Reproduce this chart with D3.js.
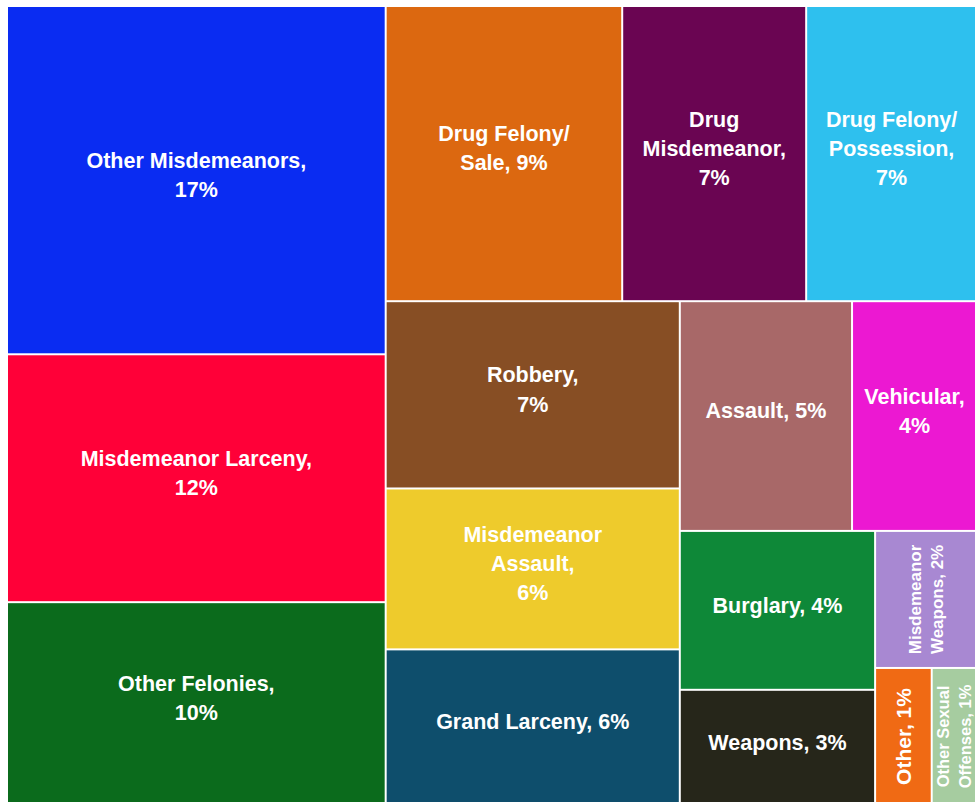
<!DOCTYPE html>
<html><head><meta charset="utf-8">
<script src="https://cdn.jsdelivr.net/npm/d3@7"></script>
<style>
html,body{margin:0;padding:0;background:#fff;}
svg{display:block;}
text{font-family:"Liberation Sans",Arial,sans-serif;font-weight:bold;fill:#fff;}
</style></head>
<body>
<svg id="chart" width="975" height="802"></svg>
<script>
const categories = ["Other Misdemeanors","Misdemeanor Larceny","Other Felonies","Drug Felony/Sale","Drug Misdemeanor","Drug Felony/Possession","Robbery","Misdemeanor Assault","Grand Larceny","Assault","Vehicular","Burglary","Weapons","Misdemeanor Weapons","Other","Other Sexual Offenses"];
const shares = [17.0,12.1,9.9,9.0,7.0,6.5,7.1,6.1,5.9,5.1,3.7,4.0,2.9,1.8,1.0,0.8];
const labelLines = [
  ["Other Misdemeanors,","17%"],
  ["Misdemeanor Larceny,","12%"],
  ["Other Felonies,","10%"],
  ["Drug Felony/","Sale, 9%"],
  ["Drug","Misdemeanor,","7%"],
  ["Drug Felony/","Possession,","7%"],
  ["Robbery,","7%"],
  ["Misdemeanor","Assault,","6%"],
  ["Grand Larceny, 6%"],
  ["Assault, 5%"],
  ["Vehicular,","4%"],
  ["Burglary, 4%"],
  ["Weapons, 3%"],
  ["Misdemeanor","Weapons, 2%"],
  ["Other, 1%"],
  ["Other Sexual","Offenses, 1%"]
];
// how many consecutive categories share each strip of the squarified layout
const rowSizes = [3,3,3,2,2,1,2];
const colors = ["#0a2cf2","#ff0038","#0b6b1c","#dc6810","#6a0552","#2ec0ee","#874e24","#eecb2c","#0e4e6c","#a86868","#ec18d2","#0e8838","#26261a","#a888d2","#f06a14","#a6cca0"];
const rotated = [false,false,false,false,false,false,false,false,false,false,false,false,false,true,true,true];
const fontSizes = [21.5,21.5,21.5,21.5,21.5,21.5,21.5,21.5,21.5,21.5,21.5,21.5,21.5,17,21,16.5];

const data = categories.map((c,i)=>({name:c,value:shares[i],lines:labelLines[i],color:colors[i],rot:rotated[i],fs:fontSizes[i]}));

function stripTile(parent, x0, y0, x1, y1) {
  const nodes = parent.children;
  let value = parent.value, i = 0;
  for (const k of rowSizes) {
    const row = nodes.slice(i, i + k); i += k;
    const rv = d3.sum(row, d => d.value);
    const dx = x1 - x0, dy = y1 - y0;
    const r = {value: rv, children: row};
    if (dx < dy) {
      const yy = value ? y0 + dy * rv / value : y1;
      d3.treemapDice(r, x0, y0, x1, yy); y0 = yy;
    } else {
      const xx = value ? x0 + dx * rv / value : x1;
      d3.treemapSlice(r, x0, y0, xx, y1); x0 = xx;
    }
    value -= rv;
  }
}

const root = d3.hierarchy({children:data}).sum(d=>d.value||0);
d3.treemap()
  .tile(stripTile)
  .size([968,797])
  .paddingInner(2)
  .round(false)(root);

const svg = d3.select("#chart");
const plot = svg.append("g").attr("transform","translate(8,7)");
const cells = plot.selectAll("g.cell").data(root.leaves()).join("g").attr("class","cell");
cells.append("rect")
  .attr("x",d=>d.x0).attr("y",d=>d.y0)
  .attr("width",d=>d.x1-d.x0).attr("height",d=>d.y1-d.y0)
  .attr("fill",d=>d.data.color);

cells.each(function(d){
  const g = d3.select(this);
  const cx=(d.x0+d.x1)/2, cy=(d.y0+d.y1)/2;
  const fs=d.data.fs, lh=fs*1.35, n=d.data.lines.length;
  const t = g.append("text")
    .attr("text-anchor","middle")
    .attr("font-size",fs)
    .attr("transform",`translate(${cx},${cy})${d.data.rot?" rotate(-90)":""}`);
  d.data.lines.forEach((l,i)=>{
    t.append("tspan").attr("x",0).attr("y",(i-(n-1)/2)*lh).attr("dy", d.data.rot ? "0.35em" : "0.1em").text(l);
  });
});
</script>
</body></html>
